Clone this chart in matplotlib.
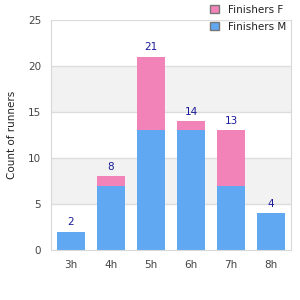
import matplotlib.pyplot as plt
from matplotlib.patches import Patch

# Данные
categories = ['3h', '4h', '5h', '6h', '7h', '8h']
finishers_m = [2, 7, 13, 13, 7, 4]
finishers_f = [0, 1, 8, 1, 6, 0]
totals = [m + f for m, f in zip(finishers_m, finishers_f)]

color_m = '#60a8f2'
color_f = '#f283b8'
text_gray = '#444444'

fig = plt.figure(figsize=(3, 3), dpi=100)
ax = fig.add_axes([0.17, 0.1667, 0.80, 0.7667])

# Полосы фона
for lo, hi in [(5, 10), (15, 20)]:
    ax.axhspan(lo, hi, color='#f2f2f2', zorder=0, lw=0)
for y in [5, 10, 15, 20, 25]:
    ax.axhline(y, color='#dddddd', lw=1, zorder=1)

x = range(len(categories))
ax.bar(x, finishers_m, width=0.72, color=color_m, zorder=2)
ax.bar(x, finishers_f, width=0.72, bottom=finishers_m, color=color_f, zorder=2)

for i, t in enumerate(totals):
    ax.text(i, t + 0.5, str(t), ha='center', va='bottom', color='#1a1a99', fontsize=7.5)

ax.set_xlim(-0.5, len(categories) - 0.5)
ax.set_ylim(0, 25)
ax.set_yticks([0, 5, 10, 15, 20, 25])
ax.set_xticks(list(x))
ax.set_xticklabels(categories)
ax.tick_params(axis='both', length=0, labelsize=7.5, labelcolor=text_gray, pad=7)
ax.set_ylabel('Count of runners', fontsize=7.5, color='#222222', labelpad=8)

for side in ['left', 'bottom', 'right']:
    ax.spines[side].set_color('#d8d8d8')
ax.spines['top'].set_visible(False)

handles = [Patch(facecolor=color_f, edgecolor='#777777', label='Finishers F'),
           Patch(facecolor=color_m, edgecolor='#777777', label='Finishers M')]
fig.legend(handles=handles, loc='upper left', bbox_to_anchor=(0.67, 1.015), frameon=False,
           fontsize=7.5, handlelength=0.8, handleheight=0.8, handletextpad=0.9,
           labelspacing=0.65, labelcolor='#222222')

fig.savefig('out.png', dpi=100)
